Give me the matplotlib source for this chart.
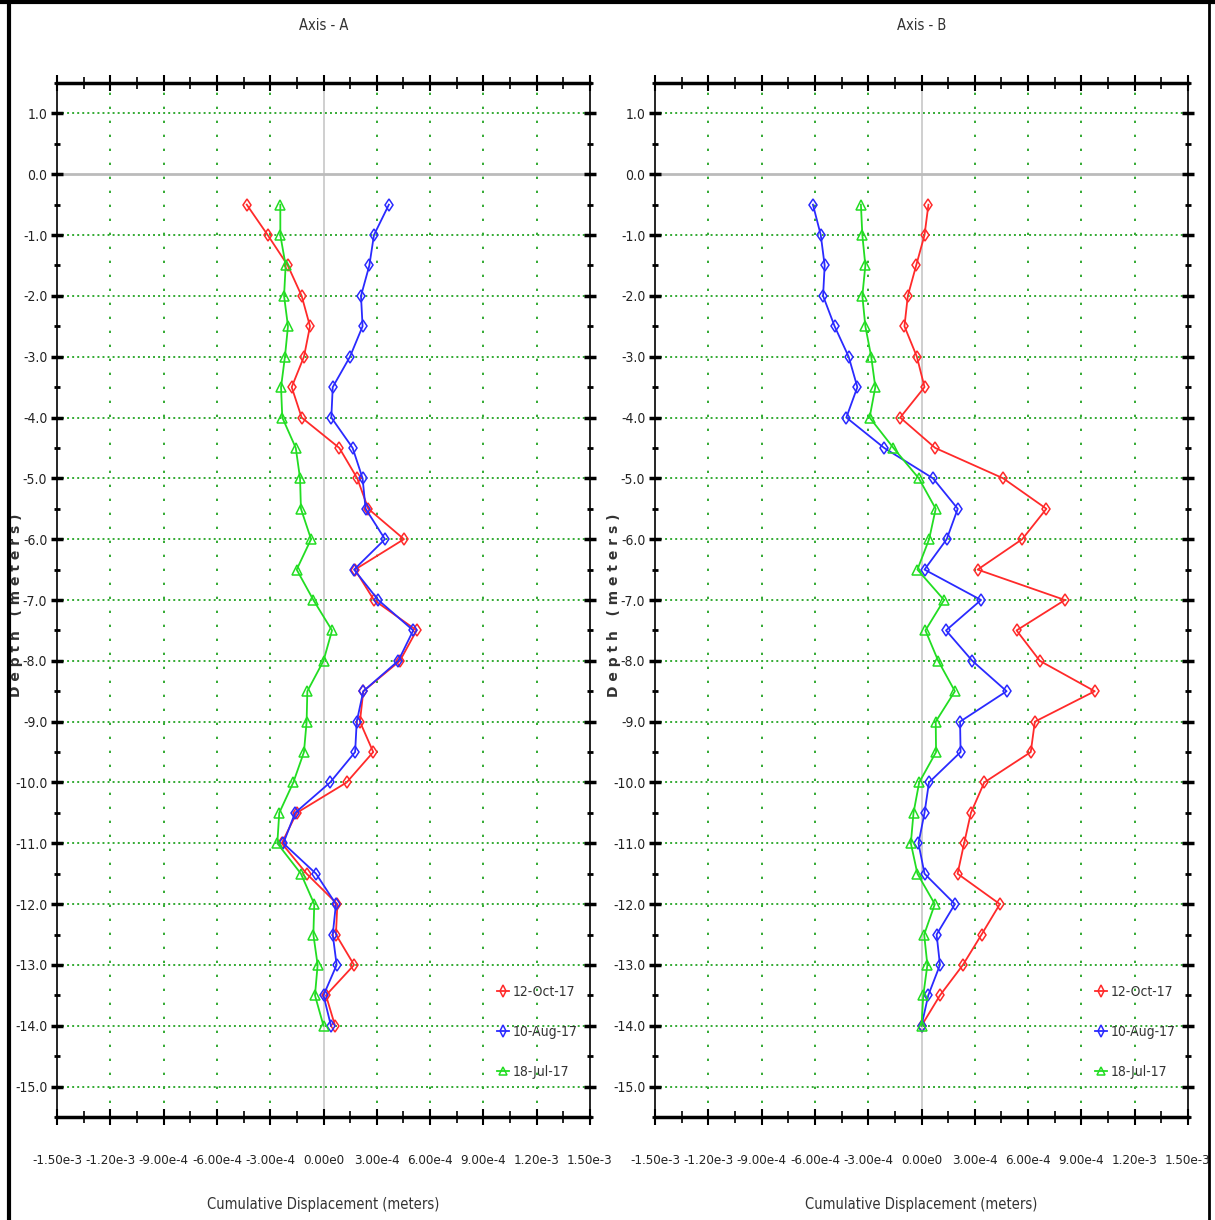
import matplotlib
matplotlib.use('Agg')
import matplotlib.pyplot as plt
from matplotlib.lines import Line2D
from matplotlib.ticker import MultipleLocator, FixedLocator
import numpy as np

# the reference uses a narrow face; DejaVu Sans Condensed is picked if present
plt.rcParams['font.family'] = ['DejaVu Sans']
plt.rcParams['font.stretch'] = 'condensed'
tick_fs = 9.5
text_fs = 10.5

# depth of each reading (meters)
depth = [-0.5, -1.0, -1.5, -2.0, -2.5, -3.0, -3.5, -4.0, -4.5, -5.0,
         -5.5, -6.0, -6.5, -7.0, -7.5, -8.0, -8.5, -9.0, -9.5, -10.0,
         -10.5, -11.0, -11.5, -12.0, -12.5, -13.0, -13.5, -14.0]

# cumulative displacement, in units of 1e-4 m
a_oct = [-4.32, -3.14, -2.01, -1.23, -0.76, -1.10, -1.79, -1.23, 0.89, 1.90,
         2.52, 4.53, 1.77, 2.84, 5.24, 4.30, 2.24, 2.05, 2.80, 1.30,
         -1.51, -2.35, -0.95, 0.78, 0.70, 1.72, 0.14, 0.65]
a_aug = [3.68, 2.84, 2.58, 2.11, 2.20, 1.49, 0.52, 0.44, 1.64, 2.20,
         2.37, 3.46, 1.72, 3.08, 5.05, 4.21, 2.24, 1.87, 1.78, 0.37,
         -1.60, -2.26, -0.42, 0.70, 0.52, 0.74, 0.00, 0.42]
a_jul = [-2.43, -2.43, -2.13, -2.22, -2.00, -2.17, -2.39, -2.32, -1.56, -1.32,
         -1.27, -0.70, -1.51, -0.57, 0.48, 0.00, -0.91, -0.95, -1.10, -1.70,
         -2.49, -2.60, -1.27, -0.52, -0.57, -0.33, -0.48, 0.00]

b_oct = [0.39, 0.17, -0.30, -0.77, -0.96, -0.26, 0.17, -1.20, 0.77, 4.60,
         7.03, 5.67, 3.16, 8.07, 5.35, 6.66, 9.75, 6.38, 6.15, 3.53,
         2.78, 2.40, 2.03, 4.41, 3.38, 2.33, 1.04, 0.00]
b_aug = [-6.11, -5.67, -5.45, -5.54, -4.89, -4.10, -3.61, -4.23, -2.10, 0.65,
         2.04, 1.42, 0.17, 3.35, 1.38, 2.86, 4.79, 2.17, 2.20, 0.42,
         0.17, -0.17, 0.17, 1.88, 0.85, 1.04, 0.38, 0.00]
b_jul = [-3.41, -3.33, -3.16, -3.33, -3.16, -2.83, -2.60, -2.92, -1.58, -0.15,
         0.80, 0.43, -0.23, 1.27, 0.22, 0.94, 1.88, 0.80, 0.82, -0.13,
         -0.45, -0.60, -0.23, 0.75, 0.15, 0.33, 0.10, 0.00]

dates = ['12-Oct-17', '10-Aug-17', '18-Jul-17']
colors = ['#ff2a2a', '#2a2aff', '#22dd22']
markers = ['d', 'd', '^']

x_ticks = [-1.5e-3, -1.2e-3, -9e-4, -6e-4, -3e-4, 0, 3e-4, 6e-4, 9e-4, 1.2e-3, 1.5e-3]
x_labels = ['-1.50e-3', '-1.20e-3', '-9.00e-4', '-6.00e-4', '-3.00e-4', '0.00e0',
            '3.00e-4', '6.00e-4', '9.00e-4', '1.20e-3', '1.50e-3']
y_ticks = [1.0, 0.0, -1.0, -2.0, -3.0, -4.0, -5.0, -6.0, -7.0, -8.0,
           -9.0, -10.0, -11.0, -12.0, -13.0, -14.0, -15.0]

fig = plt.figure(figsize=(12.15, 12.2), dpi=100)

panels = [('Axis - A', [a_oct, a_aug, a_jul], 57),
          ('Axis - B', [b_oct, b_aug, b_jul], 655)]

for title, series, left_px in panels:
    ax = fig.add_axes([left_px / 1215, 1 - 1117 / 1220, 533 / 1215, 1034 / 1220])
    ax.set_xlim(-1.5e-3, 1.5e-3)
    ax.set_ylim(-15.5, 1.5)

    # grid
    for xt in x_ticks:
        if xt != 0 and abs(xt) != 1.5e-3:
            ax.axvline(xt, color='#33aa33', lw=1.4, ls=(0, (1.2, 6)), zorder=0)
    for yt in y_ticks:
        if yt != 0:
            ax.axhline(yt, color='#33aa33', lw=1.4, ls=(0, (1, 1.6)), zorder=0)
    ax.axvline(0, color='#cccccc', lw=1.3, zorder=0)
    ax.axhline(0, color='#bbbbbb', lw=2, zorder=0)

    for vals, c, m, lab in zip(series, colors, markers, dates):
        ax.plot(np.array(vals) * 1e-4, depth, color=c, lw=1.3, marker=m,
                ms=6.5, mfc='none', mec=c, mew=1.1, label=lab)

    ax.xaxis.set_major_locator(FixedLocator(x_ticks))
    ax.set_xticklabels(x_labels)
    ax.xaxis.set_minor_locator(MultipleLocator(1.5e-4))
    ax.yaxis.set_major_locator(FixedLocator(y_ticks))
    ax.set_yticklabels(['%.1f' % v for v in y_ticks])
    ax.yaxis.set_minor_locator(MultipleLocator(0.5))

    ax.tick_params(axis='x', which='major', direction='inout', length=12, width=1.5,
                   top=True, labelsize=tick_fs, pad=21, labelcolor='#222222')
    ax.tick_params(axis='x', which='minor', direction='inout', length=8, width=1.2, top=True)
    ax.tick_params(axis='y', which='major', direction='inout', length=8, width=2.5,
                   right=True, labelsize=10, pad=3, labelcolor='#222222')
    ax.tick_params(axis='y', which='minor', direction='inout', length=4, width=2, right=True)

    ax.spines['top'].set_linewidth(2.5)
    ax.spines['bottom'].set_linewidth(2.5)
    ax.spines['left'].set_linewidth(1.2)
    ax.spines['right'].set_linewidth(1.2)

    ax.set_title(title, fontsize=text_fs, pad=38, color='#333333')
    ax.set_xlabel('Cumulative Displacement (meters)', fontsize=text_fs, labelpad=21, color='#333333')
    ax.set_ylabel('D e p t h   ( m e t e r s )', fontsize=10, fontweight='bold',
                  stretch='normal', color='#333333')
    ax.yaxis.set_label_coords(-0.064, 0.495)

    leg = ax.legend(loc='lower right', bbox_to_anchor=(1.0, 0.025), frameon=False,
                    handlelength=0.9, handletextpad=0.25, labelspacing=1.85,
                    fontsize=10, markerscale=0.9)
    for t in leg.get_texts():
        t.set_color('#333333')

# outer frame of the screenshot
fig.add_artist(Line2D([8.5 / 1215, 8.5 / 1215], [0, 1], color='black', lw=3))
fig.add_artist(Line2D([1209 / 1215, 1209 / 1215], [0, 1], color='black', lw=2))
fig.add_artist(Line2D([0, 1], [1 - 1.5 / 1220, 1 - 1.5 / 1220], color='black', lw=3))

fig.savefig('out.png', dpi=100)
